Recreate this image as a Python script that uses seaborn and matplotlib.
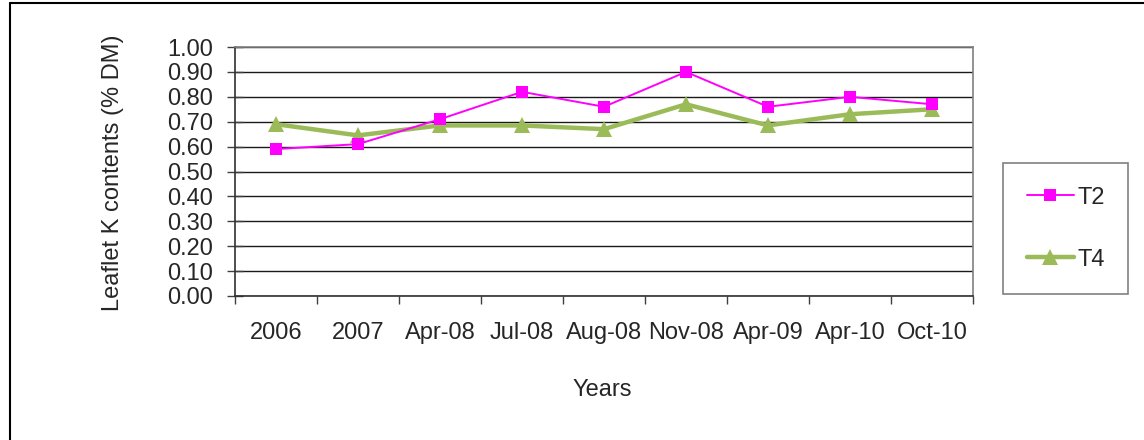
import matplotlib
matplotlib.use("Agg")
import matplotlib.pyplot as plt
from matplotlib.lines import Line2D
import seaborn as sns
import pandas as pd

# Sampling dates and leaflet potassium content per treatment
dates = ["2006", "2007", "Apr-08", "Jul-08", "Aug-08", "Nov-08", "Apr-09", "Apr-10", "Oct-10"]
t2 = [0.59, 0.61, 0.71, 0.82, 0.76, 0.90, 0.76, 0.80, 0.77]
t4 = [0.69, 0.645, 0.685, 0.685, 0.67, 0.77, 0.685, 0.73, 0.75]
y_ticks = [0.0, 0.1, 0.2, 0.3, 0.4, 0.5, 0.6, 0.7, 0.8, 0.9, 1.0]

df = pd.DataFrame({
    "pos": list(range(len(dates))) * 2,
    "value": t2 + t4,
    "series": ["T2"] * len(dates) + ["T4"] * len(dates),
})

sns.set_style("white")
plt.rcParams["font.family"] = ["Liberation Sans", "DejaVu Sans"]
FS = 17

fig = plt.figure(figsize=(11.44, 4.40), dpi=100)
ax = fig.add_axes([235 / 1144, 1 - 296 / 440, (973 - 235) / 1144, (296 - 47) / 440])

pink = "#FF00FF"
green = "#9BBB59"

sns.lineplot(data=df[df.series == "T4"], x="pos", y="value", ax=ax, color=green,
             linewidth=3.2, marker="^", markersize=11, markeredgewidth=0,
             legend=False, zorder=3)
sns.lineplot(data=df[df.series == "T2"], x="pos", y="value", ax=ax, color=pink,
             linewidth=1.4, marker="s", markersize=8, markeredgewidth=0,
             legend=False, zorder=4)

ax.set_xlim(-0.5, len(dates) - 0.5)
ax.set_ylim(0, 1.0)
ax.set_yticks(y_ticks)
ax.set_yticklabels([f"{v:.2f}" for v in y_ticks], fontsize=FS)
ax.set_xticks([i + 0.5 for i in range(-1, len(dates))])
ax.set_xticklabels([])
for i, d in enumerate(dates):
    ax.text(i, -0.15, d, ha="center", va="center", fontsize=FS, transform=ax.transData)

ax.yaxis.grid(True, color="#1a1a1a", linewidth=1.0)
ax.set_axisbelow(True)
ax.tick_params(axis="y", direction="inout", length=12, width=1, color="#404040", pad=10, left=True)
ax.tick_params(axis="x", direction="out", length=6, width=1, color="#404040", bottom=True)

for side in ["top", "right"]:
    ax.spines[side].set_color("#808080")
    ax.spines[side].set_linewidth(1.2)
for side in ["left", "bottom"]:
    ax.spines[side].set_color("#303030")
    ax.spines[side].set_linewidth(1.2)

ax.set_xlabel("")
ax.set_ylabel("")
fig.text(602 / 1144, 1 - 390 / 440, "Years", ha="center", va="center", fontsize=FS)
fig.text(113 / 1144, 1 - 173 / 440, "Leaflet K contents (% DM)", ha="center", va="center",
         rotation=90, fontsize=FS)

handles = [
    Line2D([], [], color=pink, linewidth=1.4, marker="s", markersize=8, markeredgewidth=0),
    Line2D([], [], color=green, linewidth=3.2, marker="^", markersize=11, markeredgewidth=0),
]
leg = fig.legend(handles, ["T2", "T4"], loc="upper left",
                 bbox_to_anchor=(1003 / 1144, 1 - 163 / 440),
                 fontsize=FS, frameon=True, fancybox=False, handlelength=2.0,
                 handletextpad=0.15, labelspacing=1.7, borderpad=1.0, borderaxespad=0)
leg.get_frame().set_edgecolor("#606060")
leg.get_frame().set_linewidth(1.2)

# Outer chart frame (left and top edges)
fig.add_artist(Line2D([10 / 1144, 10 / 1144], [0, 1 - 3 / 440], transform=fig.transFigure,
                      color="black", linewidth=1.5))
fig.add_artist(Line2D([10 / 1144, 1], [1 - 3 / 440, 1 - 3 / 440], transform=fig.transFigure,
                      color="black", linewidth=1.5))

fig.savefig("out.png", dpi=100, facecolor="white")
